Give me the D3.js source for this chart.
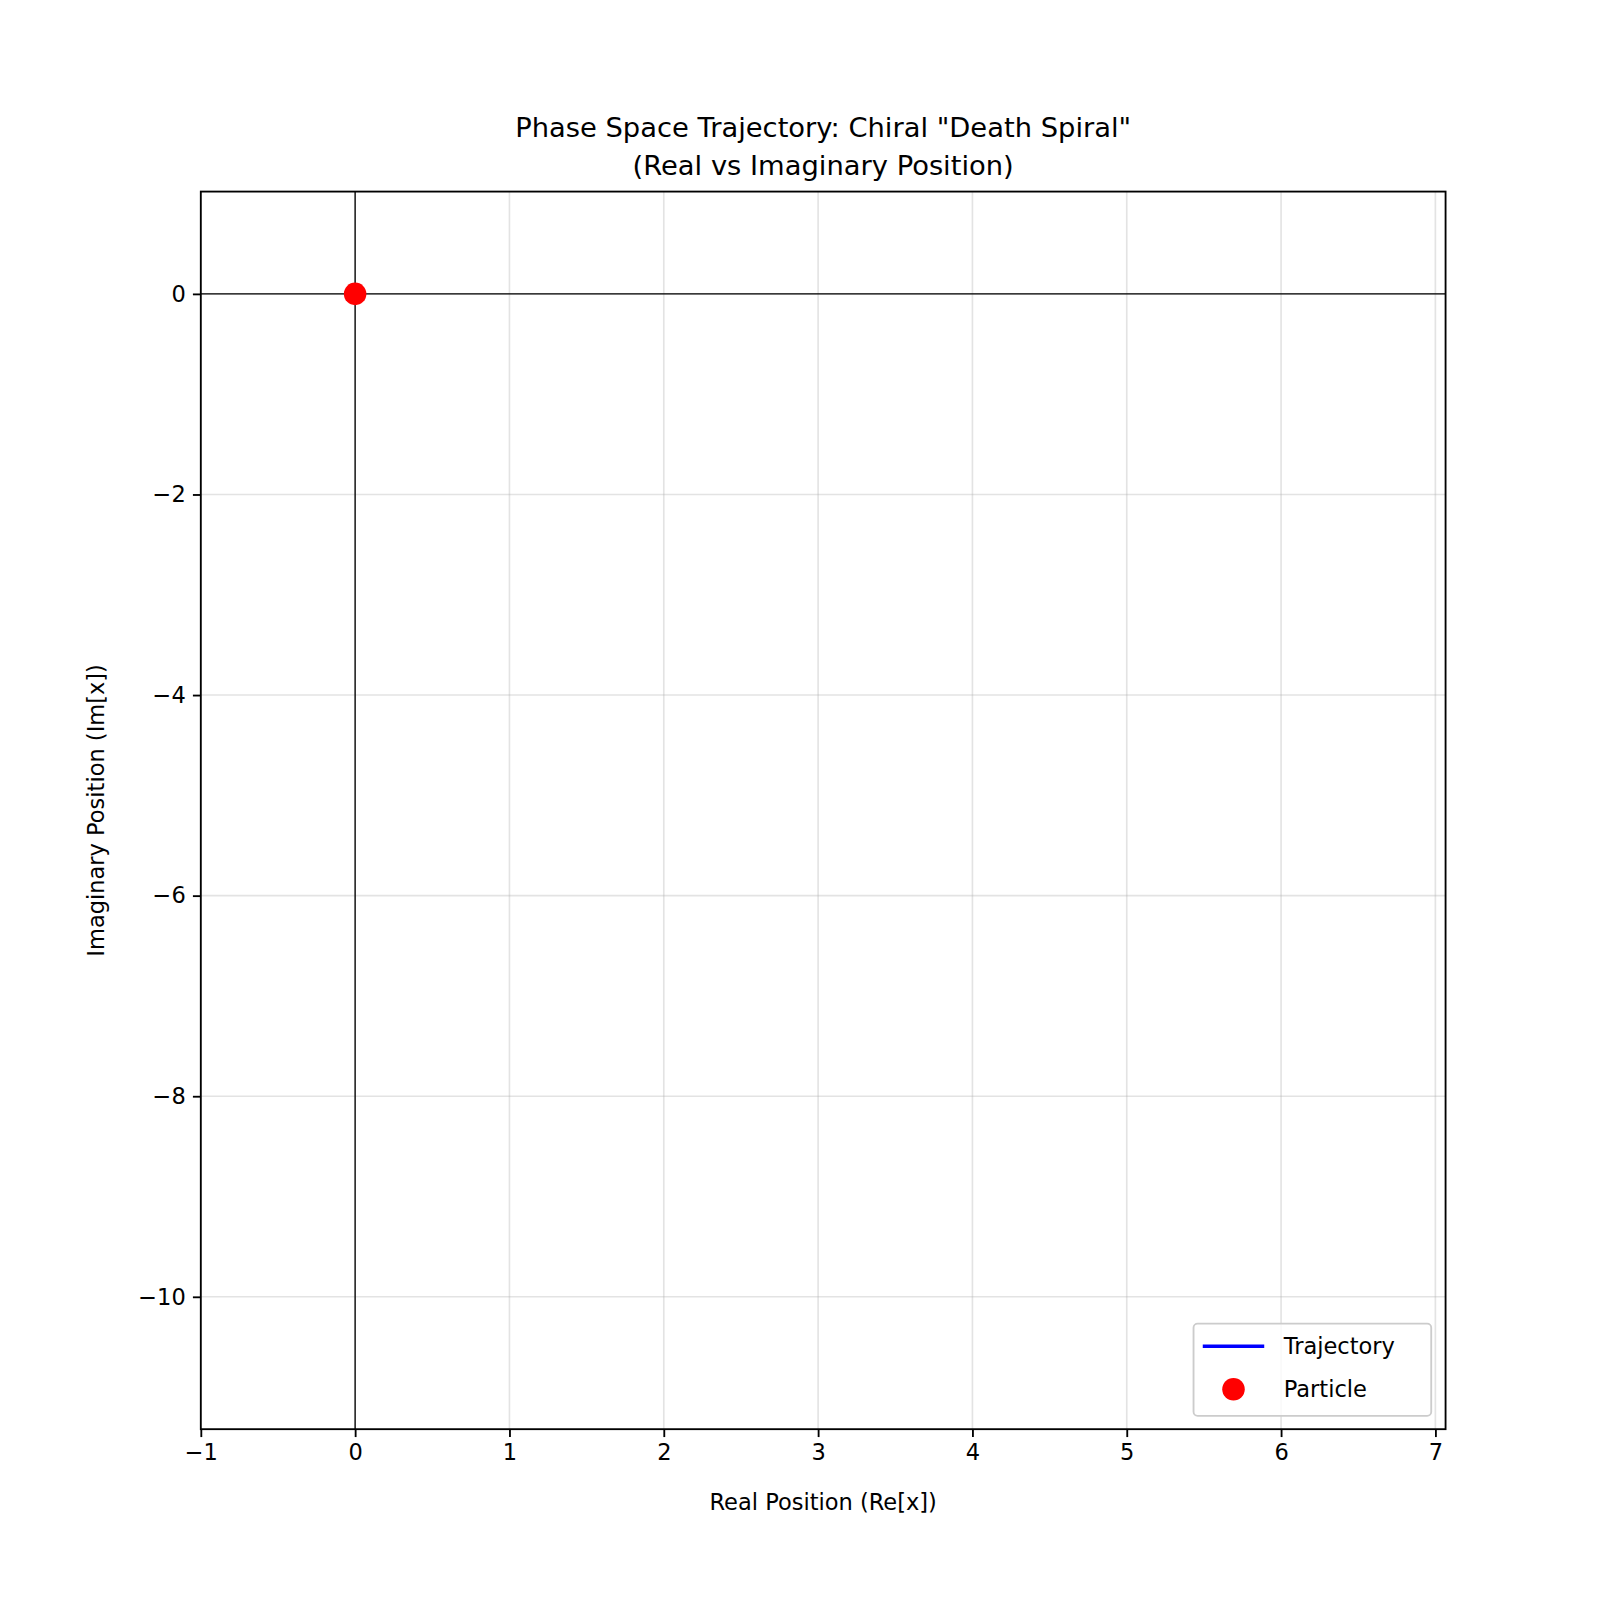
<!DOCTYPE html>
<html><head><meta charset="utf-8">
<script src="https://cdn.jsdelivr.net/npm/d3@7"></script>
<style>body{margin:0;background:#fff}text{font-family:"DejaVu Sans",sans-serif}</style>
</head><body>
<script>
const trajRe = [];
const trajIm = [];
const particle = [{re: 0, im: 0}];
const xTicks = [-1,0,1,2,3,4,5,6,7];
const yTicks = [0,-2,-4,-6,-8,-10];
const xDomain = [-1, 7.066];
const yDomain = [-11.32, 1.02];

const W=1600,H=1600, L=196,R=1411,T=187,B=1395;
const root=d3.select("body").append("svg").attr("width",W).attr("height",H);
const svg=root.append("g").attr("transform","scale(1.0245)");
const x=d3.scaleLinear().domain(xDomain).range([L,R]);
const y=d3.scaleLinear().domain(yDomain).range([B,T]);
const fs=22;
svg.append("g").selectAll("line").data(xTicks).join("line")
 .attr("x1",d=>x(d)).attr("x2",d=>x(d)).attr("y1",T).attr("y2",B)
 .attr("stroke","#b0b0b0").attr("stroke-opacity",0.35).attr("stroke-width",1.6);
svg.append("g").selectAll("line").data(yTicks).join("line")
 .attr("y1",d=>y(d)).attr("y2",d=>y(d)).attr("x1",L).attr("x2",R)
 .attr("stroke","#b0b0b0").attr("stroke-opacity",0.35).attr("stroke-width",1.6);
svg.append("line").attr("x1",L).attr("x2",R).attr("y1",y(0)).attr("y2",y(0)).attr("stroke","#000").attr("stroke-width",1.3);
svg.append("line").attr("x1",x(0)).attr("x2",x(0)).attr("y1",T).attr("y2",B).attr("stroke","#000").attr("stroke-width",1.3);
const pts=trajRe.map((r,i)=>[r,trajIm[i]]);
svg.append("path").datum(pts).attr("d",d3.line().x(d=>x(d[0])).y(d=>y(d[1]))).attr("fill","none").attr("stroke","blue").attr("stroke-width",3.3);
const ax=d3.axisBottom(x).tickValues(xTicks).tickSize(7.7).tickPadding(7).tickFormat(d=>d<0?"\u2212"+Math.abs(d):d);
const ay=d3.axisLeft(y).tickValues(yTicks).tickSize(7.7).tickPadding(7).tickFormat(d=>d<0?"\u2212"+Math.abs(d):d);
const gx=svg.append("g").attr("transform",`translate(0,${B})`).call(ax);
const gy=svg.append("g").attr("transform",`translate(${L},0)`).call(ay);
[gx,gy].forEach(g=>{g.select(".domain").remove();g.selectAll("line").attr("stroke-width",1.8);g.selectAll("text").attr("font-size",fs).attr("fill","#000").style("font-family","DejaVu Sans");});
svg.append("rect").attr("x",L).attr("y",T).attr("width",R-L).attr("height",B-T).attr("fill","none").attr("stroke","#000").attr("stroke-width",1.8);
svg.append("g").selectAll("circle").data(particle).join("circle").attr("cx",d=>x(d.re)).attr("cy",d=>y(d.im)).attr("r",11).attr("fill","red");
svg.append("text").attr("x",(L+R)/2).attr("y",1474).attr("text-anchor","middle").attr("font-size",fs).text("Real Position (Re[x])");
svg.append("text").attr("transform",`translate(102,${(T+B)/2}) rotate(-90)`).attr("text-anchor","middle").attr("font-size",fs).text("Imaginary Position (Im[x])");
svg.append("text").attr("x",(L+R)/2).attr("y",134).attr("text-anchor","middle").attr("font-size",26.7).text('Phase Space Trajectory: Chiral "Death Spiral"');
svg.append("text").attr("x",(L+R)/2).attr("y",171).attr("text-anchor","middle").attr("font-size",26.7).text('(Real vs Imaginary Position)');
const lg=svg.append("g");
lg.append("rect").attr("x",1165).attr("y",1292).attr("width",232).attr("height",90).attr("rx",4).attr("fill","#fff").attr("fill-opacity",0.8).attr("stroke","#ccc").attr("stroke-width",1.8);
lg.append("line").attr("x1",1174).attr("x2",1234).attr("y1",1314).attr("y2",1314).attr("stroke","blue").attr("stroke-width",3.3);
lg.append("text").attr("x",1253).attr("y",1322).attr("font-size",fs).text("Trajectory");
lg.append("circle").attr("cx",1204).attr("cy",1356).attr("r",11).attr("fill","red");
lg.append("text").attr("x",1253).attr("y",1364).attr("font-size",fs).text("Particle");
</script>
</body></html>
